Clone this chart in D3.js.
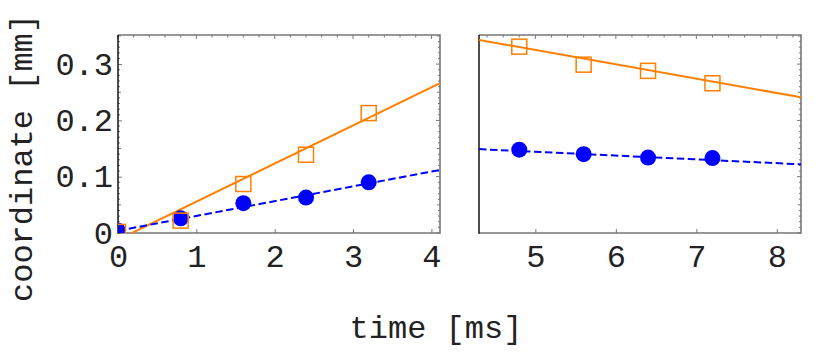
<!DOCTYPE html>
<html>
<head>
<meta charset="utf-8">
<script src="https://cdn.jsdelivr.net/npm/d3@7"></script>
<style>
  body { margin: 0; background: #fff; }
  svg text { font-family: "Liberation Mono", "Courier New", monospace; fill: #222; }
</style>
</head>
<body>
<svg id="chart"></svg>
<script>
// data
const timeLeft = [0, 0.8, 1.6, 2.4, 3.2]
const circLeft = [0.004, 0.026, 0.053, 0.063, 0.090]
const sqLeft = [0.002, 0.022, 0.087, 0.139, 0.213]
const timeRight = [4.8, 5.6, 6.4, 7.2]
const circRight = [0.148, 0.140, 0.134, 0.133]
const sqRight = [0.331, 0.299, 0.288, 0.266]

// fitted lines (end points)
const fitSqLeft = [[0, -0.012], [4.11, 0.266]]
const fitCircLeft = [[0, 0.004], [4.11, 0.112]]
const fitSqRight = [[4.3, 0.343], [8.3, 0.241]]
const fitCircRight = [[4.3, 0.149], [8.3, 0.122]]

const xTicksLeft = [0, 1, 2, 3, 4]
const xTicksRight = [5, 6, 7, 8]
const yTicks = [0, 0.1, 0.2, 0.3]
const yTickLabels = ["0", "0.1", "0.2", "0.3"]

const colors = {
    square: "#FF7F00",
    circle: "#0000FF",
    frame: "#777",
    axis: "#000"
}

const width = 830, height = 358
const plotTop = 35, plotBottom = 233

const svg = d3.select("#chart").attr("width", width).attr("height", height)

const y = d3.scaleLinear().domain([0, 0.3517]).range([plotBottom, plotTop])

const panels = [
    { id: "left", x0: 118, x1: 440, domain: [0, 4.11], time: timeLeft, circ: circLeft, sq: sqLeft,
      fitSq: fitSqLeft, fitCirc: fitCircLeft, xTicks: xTicksLeft, yAxis: true },
    { id: "right", x0: 479, x1: 801, domain: [4.3, 8.3], time: timeRight, circ: circRight, sq: sqRight,
      fitSq: fitSqRight, fitCirc: fitCircRight, xTicks: xTicksRight, yAxis: false }
]

panels.forEach(p => {
    const x = d3.scaleLinear().domain(p.domain).range([p.x0, p.x1])
    const g = svg.append("g").attr("class", "panel-" + p.id)

    svg.append("clipPath").attr("id", "clip-" + p.id)
        .append("rect").attr("x", p.x0).attr("y", plotTop)
        .attr("width", p.x1 - p.x0).attr("height", plotBottom - plotTop)

    // minor ticks: top (every 0.2) and right (every 0.01)
    const minor = g.append("g").attr("stroke", colors.frame).attr("stroke-width", 1)
    d3.range(Math.ceil(p.domain[0] * 5) / 5, p.domain[1] + 1e-9, 0.2).forEach(v => {
        const isMajor = Math.abs(v - Math.round(v)) < 1e-6
        minor.append("line").attr("x1", x(v)).attr("x2", x(v))
            .attr("y1", plotTop).attr("y2", plotTop + (isMajor ? 4 : 2.5))
    })
    d3.range(0, 0.351, 0.01).forEach(v => {
        const k = Math.round(v * 100)
        const len = k % 10 === 0 ? 4 : (k % 5 === 0 ? 3 : 2)
        minor.append("line").attr("x1", p.x1).attr("x2", p.x1 - len)
            .attr("y1", y(v)).attr("y2", y(v))
        if (p.yAxis && k % 10 !== 0) {
            minor.append("line").attr("x1", p.x0).attr("x2", p.x0 + len)
                .attr("y1", y(v)).attr("y2", y(v))
        }
    })

    // bottom axis
    const xAxis = g.append("g").attr("transform", `translate(0,${plotBottom})`)
        .call(d3.axisBottom(x).tickValues(p.xTicks).tickSize(-4).tickPadding(11).tickFormat(d3.format("d")))
    xAxis.select(".domain").remove()
    xAxis.selectAll(".tick line").attr("stroke", colors.frame)
    xAxis.selectAll(".tick text").attr("font-size", 32)

    if (p.yAxis) {
        const yAxis = g.append("g").attr("transform", `translate(${p.x0},0)`)
            .call(d3.axisLeft(y).tickValues(yTicks).tickSize(-4).tickPadding(5)
                .tickFormat((d, i) => yTickLabels[i]))
        yAxis.select(".domain").remove()
        yAxis.selectAll(".tick line").attr("stroke", colors.frame)
        yAxis.selectAll(".tick text").attr("font-size", 32).attr("dy", "0.32em")
    }

    // frame
    g.append("path")
        .attr("d", `M${p.x0},${plotTop}H${p.x1}V${plotBottom}H${p.x0}`)
        .attr("fill", "none").attr("stroke", colors.frame).attr("stroke-width", 1.6)
    g.append("line").attr("x1", p.x0).attr("x2", p.x0).attr("y1", plotTop).attr("y2", plotBottom + 0.8)
        .attr("stroke", colors.axis).attr("stroke-width", 1.4)

    const plot = g.append("g").attr("clip-path", `url(#clip-${p.id})`)
    const line = d3.line().x(d => x(d[0])).y(d => y(d[1]))

    plot.append("path").datum(p.fitSq).attr("d", line)
        .attr("fill", "none").attr("stroke", colors.square).attr("stroke-width", 2)
    plot.append("path").datum(p.fitCirc).attr("d", line)
        .attr("fill", "none").attr("stroke", colors.circle).attr("stroke-width", 2)
        .attr("stroke-dasharray", "7.5,3.5")

    plot.selectAll(".circ").data(p.time.map((t, i) => [t, p.circ[i]]))
        .enter().append("circle").attr("class", "circ")
        .attr("cx", d => x(d[0])).attr("cy", d => y(d[1])).attr("r", 8)
        .attr("fill", colors.circle)

    const s = 15
    plot.selectAll(".sq").data(p.time.map((t, i) => [t, p.sq[i]]))
        .enter().append("rect").attr("class", "sq")
        .attr("x", d => x(d[0]) - s / 2).attr("y", d => y(d[1]) - s / 2)
        .attr("width", s).attr("height", s)
        .attr("fill", "none").attr("stroke", colors.square).attr("stroke-width", 1.5)
})

// axis titles
svg.append("text").attr("x", 436).attr("y", 338).attr("text-anchor", "middle")
    .attr("font-size", 32).text("time [ms]")
svg.append("text").attr("transform", "translate(32,158) rotate(-90)")
    .attr("text-anchor", "middle").attr("font-size", 32).text("coordinate [mm]")
</script>
</body>
</html>
